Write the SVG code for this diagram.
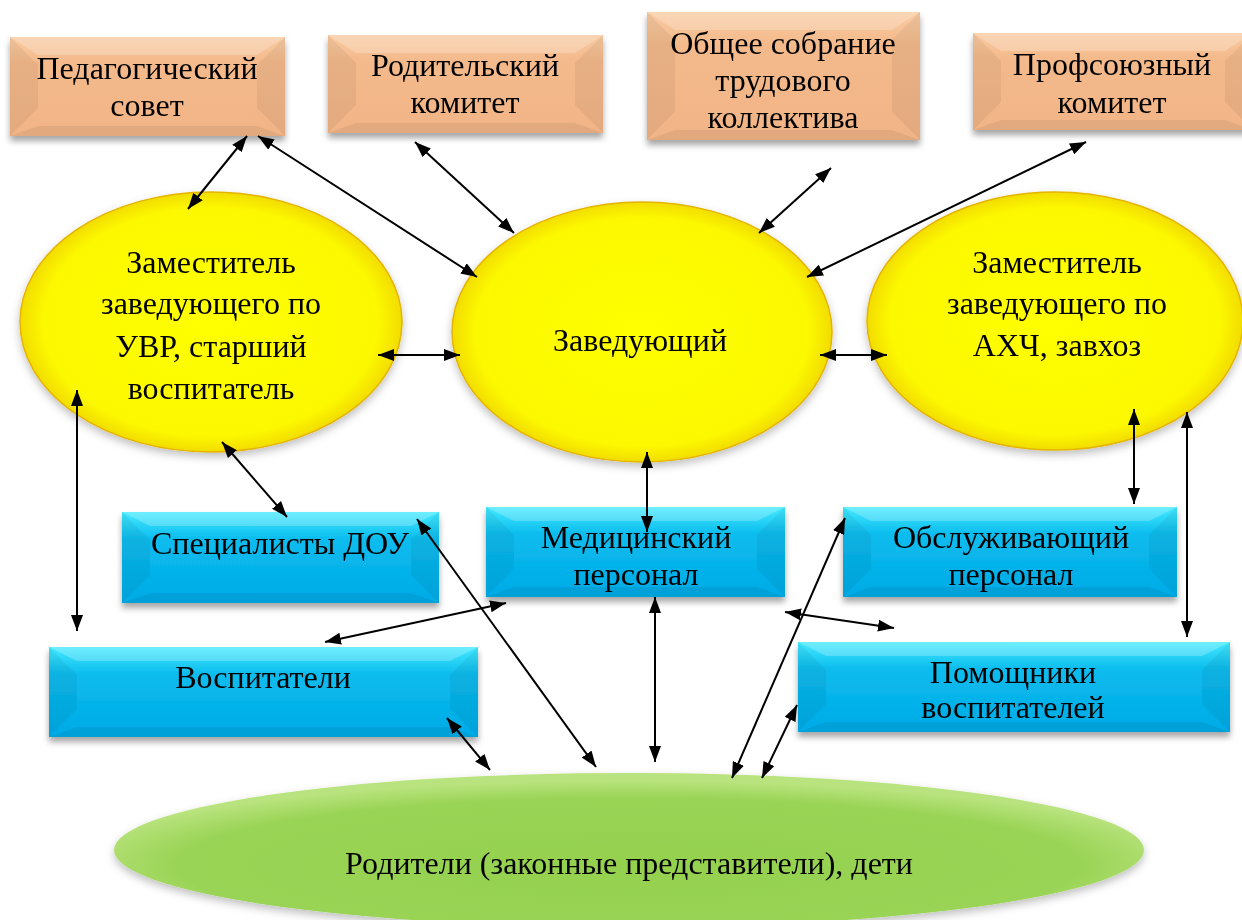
<svg xmlns="http://www.w3.org/2000/svg" width="1242" height="920" viewBox="0 0 1242 920">
<style>
.t{font-family:"Liberation Serif","Tinos","DejaVu Serif",serif;font-size:32px;fill:#000;text-anchor:middle}
.c line{stroke:#000;stroke-width:2;marker-start:url(#ah);marker-end:url(#ah)}
.pe{fill:url(#gPeach)}
.bl{fill:url(#gBlue)}
.bt{fill:#fff;opacity:.22}
.bs{fill:#000;opacity:.05}
.bb{fill:#000;opacity:.06}
</style>
<defs>
<marker id="ah" viewBox="0 0 16 12" refX="16" refY="6" markerWidth="16" markerHeight="12" markerUnits="userSpaceOnUse" orient="auto-start-reverse">
<path d="M0,0 L16,6 L0,12 z" fill="#000"/>
</marker>
<filter id="sh" x="-10%" y="-10%" width="120%" height="130%">
<feDropShadow dx="0" dy="5" stdDeviation="3" flood-color="#000" flood-opacity=".35"/>
</filter>
<filter id="she" x="-10%" y="-10%" width="120%" height="130%">
<feDropShadow dx="0" dy="4" stdDeviation="4" flood-color="#000" flood-opacity=".25"/>
</filter>
<linearGradient id="gPeach" x1="0" y1="0" x2="0" y2="1">
<stop offset="0" stop-color="#F9CBA2"/><stop offset=".25" stop-color="#F4BA8C"/><stop offset="1" stop-color="#F1B486"/>
</linearGradient>
<linearGradient id="gBlue" x1="0" y1="0" x2="0" y2="1">
<stop offset="0" stop-color="#45EAFF"/><stop offset=".3" stop-color="#0BBCEE"/><stop offset="1" stop-color="#00AAE6"/>
</linearGradient>
<radialGradient id="gYel" cx=".5" cy=".5" r=".5">
<stop offset="0" stop-color="#FFFF00"/><stop offset=".88" stop-color="#FCF800"/><stop offset="1" stop-color="#F2DC00"/>
</radialGradient>
<radialGradient id="gGrn" cx=".5" cy=".6" r=".55">
<stop offset="0" stop-color="#94D14E"/><stop offset=".8" stop-color="#9AD456"/><stop offset="1" stop-color="#B9E37E"/>
</radialGradient>
</defs>

<g id="ped-sovet" filter="url(#sh)">
<rect class="pe" x="10" y="37" width="275" height="99"/>
<polygon class="bt" points="10,37 285,37 257,55 38,55"/>
<polygon class="bs" points="10,37 38,65 38,108 10,136"/>
<polygon class="bs" points="285,37 257,65 257,108 285,136"/>
<polygon class="bb" points="10,136 285,136 257,126 38,126"/>
<text class="t" x="147" y="79">Педагогический</text>
<text class="t" x="147" y="116">совет</text>
</g>

<g id="rod-komitet" filter="url(#sh)">
<rect class="pe" x="328" y="35" width="275" height="98"/>
<polygon class="bt" points="328,35 603,35 575,53 356,53"/>
<polygon class="bs" points="328,35 356,63 356,105 328,133"/>
<polygon class="bs" points="603,35 575,63 575,105 603,133"/>
<polygon class="bb" points="328,133 603,133 575,123 356,123"/>
<text class="t" x="465" y="76">Родительский</text>
<text class="t" x="465" y="113">комитет</text>
</g>

<g id="obshee-sobranie" filter="url(#sh)">
<rect class="pe" x="647" y="12" width="273" height="128"/>
<polygon class="bt" points="647,12 920,12 892,30 675,30"/>
<polygon class="bs" points="647,12 675,40 675,112 647,140"/>
<polygon class="bs" points="920,12 892,40 892,112 920,140"/>
<polygon class="bb" points="647,140 920,140 892,130 675,130"/>
<text class="t" x="783" y="54">Общее собрание</text>
<text class="t" x="783" y="91">трудового</text>
<text class="t" x="783" y="128">коллектива</text>
</g>

<g id="profsoyuz" filter="url(#sh)">
<rect class="pe" x="973" y="33" width="280" height="97"/>
<polygon class="bt" points="973,33 1253,33 1225,51 1001,51"/>
<polygon class="bs" points="973,33 1001,61 1001,102 973,130"/>
<polygon class="bs" points="1253,33 1225,61 1225,102 1253,130"/>
<polygon class="bb" points="973,130 1253,130 1225,120 1001,120"/>
<text class="t" x="1112" y="75">Профсоюзный</text>
<text class="t" x="1112" y="113">комитет</text>
</g>

<g id="zam-uvr" filter="url(#she)">
<ellipse cx="211" cy="322" rx="191" ry="130" fill="url(#gYel)" stroke="#E4B400" stroke-width="1.5"/>
<text class="t" x="211" y="273">Заместитель</text>
<text class="t" x="211" y="314">заведующего по</text>
<text class="t" x="211" y="357">УВР, старший</text>
<text class="t" x="211" y="399">воспитатель</text>
</g>

<g id="zaveduyushiy" filter="url(#she)">
<ellipse cx="642" cy="332" rx="190" ry="130" fill="url(#gYel)" stroke="#E4B400" stroke-width="1.5"/>
<text class="t" x="640" y="351">Заведующий</text>
</g>

<g id="zam-ahch" filter="url(#she)">
<ellipse cx="1055" cy="321" rx="188" ry="129" fill="url(#gYel)" stroke="#E4B400" stroke-width="1.5"/>
<text class="t" x="1057" y="273">Заместитель</text>
<text class="t" x="1057" y="314">заведующего по</text>
<text class="t" x="1057" y="356">АХЧ, завхоз</text>
</g>

<g id="specialisty" filter="url(#sh)">
<rect class="bl" x="122" y="512" width="317" height="91"/>
<polygon class="bt" points="122,512 439,512 411,526 150,526"/>
<polygon class="bs" points="122,512 150,540 150,575 122,603"/>
<polygon class="bs" points="439,512 411,540 411,575 439,603"/>
<polygon class="bb" points="122,603 439,603 411,593 150,593"/>
<text class="t" x="280" y="554">Специалисты ДОУ</text>
</g>

<g id="med-personal" filter="url(#sh)">
<rect class="bl" x="486" y="507" width="299" height="90"/>
<polygon class="bt" points="486,507 785,507 757,521 514,521"/>
<polygon class="bs" points="486,507 514,535 514,569 486,597"/>
<polygon class="bs" points="785,507 757,535 757,569 785,597"/>
<polygon class="bb" points="486,597 785,597 757,587 514,587"/>
<text class="t" x="636" y="548">Медицинский</text>
<text class="t" x="636" y="585">персонал</text>
</g>

<g id="obsl-personal" filter="url(#sh)">
<rect class="bl" x="843" y="507" width="334" height="90"/>
<polygon class="bt" points="843,507 1177,507 1149,521 871,521"/>
<polygon class="bs" points="843,507 871,535 871,569 843,597"/>
<polygon class="bs" points="1177,507 1149,535 1149,569 1177,597"/>
<polygon class="bb" points="843,597 1177,597 1149,587 871,587"/>
<text class="t" x="1011" y="548">Обслуживающий</text>
<text class="t" x="1011" y="585">персонал</text>
</g>

<g id="vospitateli" filter="url(#sh)">
<rect class="bl" x="49" y="647" width="429" height="90"/>
<polygon class="bt" points="49,647 478,647 450,661 77,661"/>
<polygon class="bs" points="49,647 77,675 77,709 49,737"/>
<polygon class="bs" points="478,647 450,675 450,709 478,737"/>
<polygon class="bb" points="49,737 478,737 450,727 77,727"/>
<text class="t" x="263" y="688">Воспитатели</text>
</g>

<g id="pomoshniki" filter="url(#sh)">
<rect class="bl" x="798" y="642" width="432" height="90"/>
<polygon class="bt" points="798,642 1230,642 1202,656 826,656"/>
<polygon class="bs" points="798,642 826,670 826,704 798,732"/>
<polygon class="bs" points="1230,642 1202,670 1202,704 1230,732"/>
<polygon class="bb" points="798,732 1230,732 1202,722 826,722"/>
<text class="t" x="1013" y="683">Помощники</text>
<text class="t" x="1013" y="718">воспитателей</text>
</g>

<g id="roditeli" filter="url(#she)">
<ellipse cx="629" cy="850" rx="515" ry="77" fill="url(#gGrn)"/>
<text class="t" x="629" y="874">Родители (законные представители), дети</text>
</g>

<g id="connectors" class="c">
<line x1="247" y1="136" x2="188" y2="209"/>
<line x1="258" y1="136" x2="477" y2="277"/>
<line x1="415" y1="142" x2="514" y2="233"/>
<line x1="831" y1="168" x2="759" y2="233"/>
<line x1="1086" y1="142" x2="807" y2="277"/>
<line x1="378" y1="355" x2="460" y2="355"/>
<line x1="820" y1="355" x2="887" y2="355"/>
<line x1="77" y1="390" x2="77" y2="631"/>
<line x1="222" y1="442" x2="287" y2="517"/>
<line x1="647" y1="452" x2="647" y2="532"/>
<line x1="1134" y1="409" x2="1134" y2="504"/>
<line x1="1187" y1="412" x2="1187" y2="637"/>
<line x1="417" y1="519" x2="596" y2="767"/>
<line x1="325" y1="642" x2="506" y2="603"/>
<line x1="655" y1="597" x2="655" y2="762"/>
<line x1="785" y1="612" x2="894" y2="628"/>
<line x1="845" y1="518" x2="732" y2="778"/>
<line x1="797" y1="705" x2="762" y2="778"/>
<line x1="447" y1="718" x2="490" y2="770"/>
</g>
</svg>
